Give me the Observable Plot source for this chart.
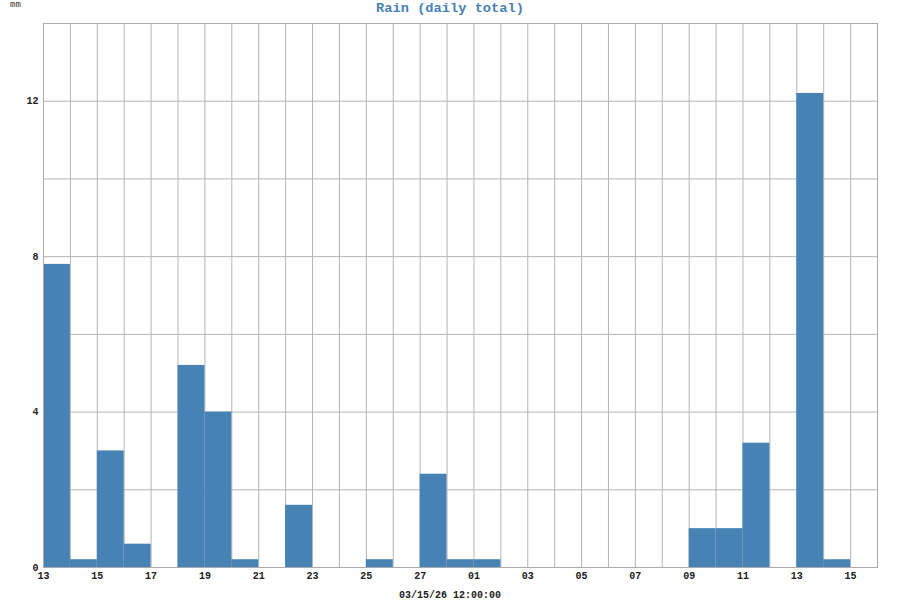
<!DOCTYPE html>
<html><head><meta charset="utf-8">
<script src="https://cdn.jsdelivr.net/npm/d3@7"></script>
<script src="https://cdn.jsdelivr.net/npm/@observablehq/plot@0.6"></script>
<style>
body{margin:0;background:#fff}
#wrap{position:relative;width:900px;height:600px;font-family:"Liberation Mono","DejaVu Sans Mono",monospace;overflow:hidden}
#title{position:absolute;top:1px;left:0;width:900px;text-align:center;font-size:13.7px;line-height:16px;font-weight:bold;color:#4682b4}
#unit{position:absolute;top:0;left:10px;font-size:9px;line-height:10px;color:#333}
#caption{position:absolute;top:590px;left:0;width:900px;text-align:center;font-size:10px;line-height:12px;font-weight:bold;color:#222}
</style></head>
<body>
<div id="wrap">
  <div id="chart"></div>
  <div id="title">Rain (daily total)</div>
  <div id="unit">mm</div>
  <div id="caption">03/15/26 12:00:00</div>
</div>
<script>
const days = ["2026-02-13","2026-02-14","2026-02-15","2026-02-16","2026-02-17","2026-02-18","2026-02-19","2026-02-20","2026-02-21","2026-02-22","2026-02-23","2026-02-24","2026-02-25","2026-02-26","2026-02-27","2026-02-28","2026-03-01","2026-03-02","2026-03-03","2026-03-04","2026-03-05","2026-03-06","2026-03-07","2026-03-08","2026-03-09","2026-03-10","2026-03-11","2026-03-12","2026-03-13","2026-03-14"];
const rain = [7.8,0.2,3.0,0.6,0,5.2,4.0,0.2,0,1.6,0,0,0.2,0,2.4,0.2,0.2,0,0,0,0,0,0,0,1.0,1.0,3.2,0,12.2,0.2];
const xTickLabels = ["2026-02-13","2026-02-15","2026-02-17","2026-02-19","2026-02-21","2026-02-23","2026-02-25","2026-02-27","2026-03-01","2026-03-03","2026-03-05","2026-03-07","2026-03-09","2026-03-11","2026-03-13","2026-03-15"];
const yTickLabels = [0,4,8,12];
const yGrid = [0,2,4,6,8,10,12,14];
const xDomain = ["2026-02-13","2026-03-16"];

const toDate = s => new Date(s + "T00:00:00Z");
const data = days.map((d,i) => ({x1: toDate(d), x2: d3.utcDay.offset(toDate(d), 1), y: rain[i]}));
const domain = xDomain.map(toDate);
const gridDays = d3.utcDay.range(domain[0], d3.utcDay.offset(domain[1], 1));

const chart = Plot.plot({
  width: 900, height: 600,
  marginLeft: 43, marginRight: 23, marginTop: 23, marginBottom: 33,
  style: {fontFamily: "'Liberation Mono', monospace", fontSize: "10px", fontWeight: "bold", background: "white", color: "#222", overflow: "visible"},
  x: {type: "utc", domain},
  y: {domain: [0, 14]},
  marks: [
    Plot.gridX(gridDays, {stroke: "#b4b4b4", strokeOpacity: 1}),
    Plot.gridY(yGrid, {stroke: "#b4b4b4", strokeOpacity: 1}),
    Plot.rectY(data, {x1: "x1", x2: "x2", y: "y", fill: "#4682b4", inset: 0}),
    Plot.frame({stroke: "#aaaaaa"}),
    Plot.axisX(xTickLabels.map(toDate), {tickSize: 0, tickPadding: 4, tickFormat: d3.utcFormat("%d"), label: null}),
    Plot.axisY(yTickLabels, {tickSize: 0, tickPadding: 5, label: null})
  ]
});
document.getElementById("chart").appendChild(chart);
</script>
</body></html>
